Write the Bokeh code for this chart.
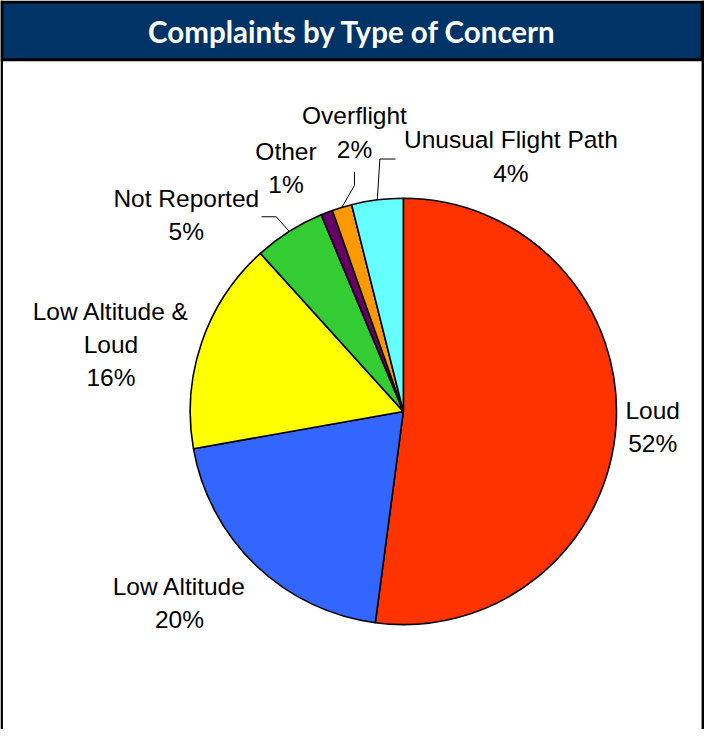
import math
from bokeh.plotting import figure
from bokeh.models import Range1d
from bokeh.core.properties import value
from bokeh.embed import file_html
from bokeh.resources import INLINE

# ---- data ----
categories = ["Loud", "Low Altitude", "Low Altitude &\nLoud", "Not Reported",
              "Other", "Overflight", "Unusual Flight Path"]
shares = [52.1, 20.1, 16.1, 5.4, 0.9, 1.5, 3.9]
colors = ["#FF3300", "#3366FF", "#FFFF00", "#33CC33", "#660066", "#FF9900", "#66FFFF"]
title_text = "Complaints by Type of Concern"

# ---- layout (reference pixel space 720 x 745, y measured downward) ----
W, H = 720, 745
CX, CY, R = 412, 420, 218
label_cx = [667, 183, 113, 190, 292, 362, 522]
label_cy = [436, 616.5, 352, 220, 171.5, 135.5, 160]
line_step = 34
leaders = {3: [(282, 221), (267, 221)],
           5: [(362, 189), (362, 175)],
           6: [(388, 162), (404, 162)]}

def Y(y):
    return H - y

p = figure(width=704, height=729, x_range=Range1d(0, W), y_range=Range1d(0, H),
           min_border=0, toolbar_location=None, output_backend="svg")
p.axis.visible = False
p.grid.visible = False
p.outline_line_color = None
p.background_fill_color = "white"
p.border_fill_color = "white"

# frame & title bar
p.quad(left=[0], right=[W], top=[Y(0)], bottom=[Y(62)], fill_color="black", line_color=None)
p.quad(left=[3], right=[716], top=[Y(3)], bottom=[Y(59)], fill_color="#003366", line_color=None)
p.quad(left=[0, 717], right=[2.5, W], top=[Y(0), Y(0)], bottom=[0, 0],
       fill_color="black", line_color=None)
p.text(x=[360], y=[Y(32)], text=[title_text], text_align="center", text_baseline="alphabetic",
       text_font=value("Lato"), text_font_style="bold", text_font_size="29.5px", text_color="white")

# wedges
total = sum(shares)
starts, ends, mids = [], [], []
cum = 0.0
for v in shares:
    a0 = math.pi / 2 - 2 * math.pi * cum / total
    cum += v
    a1 = math.pi / 2 - 2 * math.pi * cum / total
    starts.append(a0)
    ends.append(a1)
    mids.append((a0 + a1) / 2)

p.wedge(x=CX, y=Y(CY), radius=R, start_angle=starts, end_angle=ends, direction="clock",
        fill_color=colors, line_color="black", line_width=1.6)

# leader lines
xs, ys = [], []
for i, pts in leaders.items():
    sx = CX + R * math.cos(mids[i])
    sy = Y(CY) + R * math.sin(mids[i])
    xs.append([sx] + [q[0] for q in pts])
    ys.append([sy] + [Y(q[1]) for q in pts])
p.multi_line(xs=xs, ys=ys, line_color="black", line_width=1)

# labels
tx, ty, tt = [], [], []
for i, name in enumerate(categories):
    lines = name.split("\n") + [f"{int(shares[i] / total * 100 + 0.5)}%"]
    n = len(lines)
    for k, s in enumerate(lines):
        cy = label_cy[i] + (k - (n - 1) / 2) * line_step
        tx.append(label_cx[i])
        ty.append(Y(cy - 0.5))
        tt.append(s)
p.text(x=tx, y=ty, text=tt, text_align="center", text_baseline="alphabetic",
       text_font=value("Liberation Sans"), text_font_size="24.5px", text_color="black")

open("out.html", "w").write(file_html(p, INLINE))
